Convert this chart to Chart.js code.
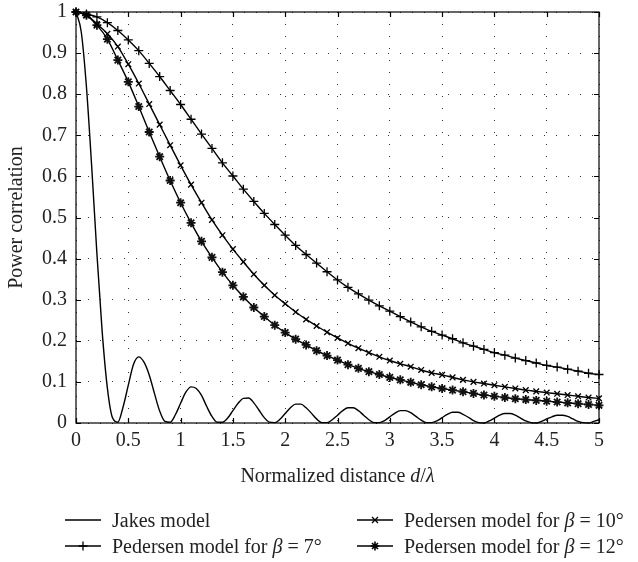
<!DOCTYPE html>
<html>
<head>
<meta charset="utf-8">
<script src="https://cdn.jsdelivr.net/npm/chart.js@4"></script>
<style>
  body { margin: 0; background: #fff; }
  #wrap { position: relative; width: 638px; height: 562px; font-family: "Liberation Serif", serif; color: #222; }
  #chart { position: absolute; left: 0; top: 0; }
  .txt { position: absolute; font-size: 20px; line-height: 24px; white-space: nowrap; }
  .key { position: absolute; height: 24px; display: flex; align-items: center; font-size: 20px; white-space: nowrap; }
  .key svg { margin-right: 11px; }
</style>
</head>
<body>
<div id="wrap">
  <canvas id="chart" width="638" height="562"></canvas>
  <div class="txt" style="left:0; width:675px; text-align:center; top:463px;">Normalized distance <i>d</i>/<i>λ</i></div>
  <div class="key" style="left:65px; top:508px;" id="key0"></div>
  <div class="key" style="left:65px; top:534px;" id="key1"></div>
  <div class="key" style="left:357px; top:508px;" id="key2"></div>
  <div class="key" style="left:357px; top:534px;" id="key3"></div>
</div>
<script>
// normalized distance d/lambda, 0.1 steps (Pedersen curves)
const distance = [0, 0.1, 0.2, 0.3, 0.4, 0.5, 0.6, 0.7, 0.8, 0.9,
  1, 1.1, 1.2, 1.3, 1.4, 1.5, 1.6, 1.7, 1.8, 1.9,
  2, 2.1, 2.2, 2.3, 2.4, 2.5, 2.6, 2.7, 2.8, 2.9,
  3, 3.1, 3.2, 3.3, 3.4, 3.5, 3.6, 3.7, 3.8, 3.9,
  4, 4.1, 4.2, 4.3, 4.4, 4.5, 4.6, 4.7, 4.8, 4.9, 5];

const pedersen7 = [1.000, 0.995, 0.988, 0.974, 0.955, 0.932, 0.906, 0.875, 0.843, 0.809,
  0.775, 0.739, 0.703, 0.668, 0.633, 0.601, 0.569, 0.539, 0.510, 0.483,
  0.457, 0.432, 0.410, 0.389, 0.368, 0.348, 0.330, 0.314, 0.299, 0.285,
  0.272, 0.259, 0.246, 0.234, 0.223, 0.214, 0.205, 0.195, 0.187, 0.179,
  0.171, 0.165, 0.158, 0.152, 0.146, 0.140, 0.136, 0.131, 0.126, 0.121, 0.118];

const pedersen10 = [1.000, 0.993, 0.971, 0.947, 0.916, 0.873, 0.826, 0.776, 0.726, 0.676,
  0.627, 0.580, 0.536, 0.494, 0.457, 0.423, 0.392, 0.362, 0.335, 0.311,
  0.290, 0.270, 0.252, 0.236, 0.221, 0.207, 0.194, 0.182, 0.171, 0.161,
  0.152, 0.144, 0.137, 0.129, 0.122, 0.117, 0.111, 0.105, 0.100, 0.096,
  0.092, 0.088, 0.084, 0.080, 0.077, 0.074, 0.071, 0.068, 0.065, 0.062, 0.060];

const pedersen12 = [1.000, 0.992, 0.968, 0.934, 0.883, 0.830, 0.770, 0.708, 0.648, 0.590,
  0.536, 0.487, 0.442, 0.403, 0.367, 0.335, 0.307, 0.281, 0.259, 0.238,
  0.220, 0.204, 0.190, 0.176, 0.164, 0.153, 0.142, 0.133, 0.125, 0.118,
  0.111, 0.105, 0.099, 0.093, 0.088, 0.084, 0.080, 0.076, 0.072, 0.068,
  0.065, 0.062, 0.059, 0.057, 0.055, 0.053, 0.051, 0.049, 0.047, 0.045, 0.043];

// Jakes model read at 0.05 steps
const jakesDistance = [0, 0.05, 0.1, 0.15, 0.2, 0.25, 0.3, 0.35, 0.4, 0.45,
  0.5, 0.55, 0.6, 0.65, 0.7, 0.75, 0.8, 0.85, 0.9, 0.95,
  1, 1.05, 1.1, 1.15, 1.2, 1.25, 1.3, 1.35, 1.4, 1.45,
  1.5, 1.55, 1.6, 1.65, 1.7, 1.75, 1.8, 1.85, 1.9, 1.95,
  2, 2.05, 2.1, 2.15, 2.2, 2.25, 2.3, 2.35, 2.4, 2.45,
  2.5, 2.55, 2.6, 2.65, 2.7, 2.75, 2.8, 2.85, 2.9, 2.95,
  3, 3.05, 3.1, 3.15, 3.2, 3.25, 3.3, 3.35, 3.4, 3.45,
  3.5, 3.55, 3.6, 3.65, 3.7, 3.75, 3.8, 3.85, 3.9, 3.95,
  4, 4.05, 4.1, 4.15, 4.2, 4.25, 4.3, 4.35, 4.4, 4.45,
  4.5, 4.55, 4.6, 4.65, 4.7, 4.75, 4.8, 4.85, 4.9, 4.95, 5];

const jakes = [1.000, 0.952, 0.817, 0.624, 0.412, 0.223, 0.085, 0.012, 0.002, 0.039,
  0.092, 0.143, 0.161, 0.148, 0.117, 0.072, 0.029, 0.004, 0.002, 0.020,
  0.048, 0.075, 0.088, 0.084, 0.067, 0.040, 0.016, 0.002, 0.002, 0.012,
  0.030, 0.048, 0.060, 0.061, 0.049, 0.031, 0.013, 0.002, 0.001, 0.009,
  0.023, 0.037, 0.046, 0.046, 0.037, 0.024, 0.010, 0.001, 0.001, 0.008,
  0.019, 0.030, 0.037, 0.037, 0.030, 0.019, 0.008, 0.001, 0.001, 0.006,
  0.015, 0.024, 0.030, 0.030, 0.025, 0.016, 0.007, 0.001, 0.001, 0.005,
  0.013, 0.021, 0.026, 0.026, 0.021, 0.014, 0.006, 0.001, 0.000, 0.005,
  0.012, 0.019, 0.023, 0.023, 0.019, 0.012, 0.005, 0.001, 0.000, 0.004,
  0.010, 0.015, 0.019, 0.019, 0.016, 0.010, 0.004, 0.001, 0.000, 0.004, 0.008];

const seriesNames = ["Jakes model", "Pedersen model for β = 7°", "Pedersen model for β = 10°", "Pedersen model for β = 12°"];
const markerStyles = [false, "cross", "crossRot", "star"];

const toPoints = (xs, ys) => xs.map((x, i) => ({ x: x, y: ys[i] }));
const font = { family: "Liberation Serif", size: 20 };
// "1", "0.5", "0" like the original, no trailing zeros
const shortLabel = v => String(Number(v.toFixed(1)));

// box around the plot and inward ticks on all four sides
const framePlugin = {
  id: "frame",
  afterDraw(chart) {
    const { ctx, chartArea: a, scales } = chart;
    ctx.save();
    ctx.strokeStyle = "#000";
    ctx.lineWidth = 1.2;
    ctx.strokeRect(a.left, a.top, a.right - a.left, a.bottom - a.top);
    ctx.beginPath();
    scales.x.ticks.forEach(t => {
      const px = Math.round(scales.x.getPixelForValue(t.value)) + 0.5;
      ctx.moveTo(px, a.bottom); ctx.lineTo(px, a.bottom - 5);
      ctx.moveTo(px, a.top); ctx.lineTo(px, a.top + 5);
    });
    scales.y.ticks.forEach(t => {
      const py = Math.round(scales.y.getPixelForValue(t.value)) + 0.5;
      ctx.moveTo(a.left, py); ctx.lineTo(a.left + 5, py);
      ctx.moveTo(a.right, py); ctx.lineTo(a.right - 5, py);
    });
    ctx.stroke();
    ctx.restore();
  }
};

const ctx = document.getElementById("chart").getContext("2d");
new Chart(ctx, {
  type: "line",
  data: {
    datasets: [
      {
        label: seriesNames[0],
        data: toPoints(jakesDistance, jakes),
        borderColor: "#000",
        borderWidth: 1.4,
        pointRadius: 0,
        cubicInterpolationMode: "monotone",
        clip: false
      },
      {
        label: seriesNames[1],
        data: toPoints(distance, pedersen7),
        borderColor: "#000",
        borderWidth: 1.4,
        pointStyle: markerStyles[1],
        pointRadius: 4.5,
        pointBorderWidth: 1.3,
        pointBorderColor: "#000",
        cubicInterpolationMode: "monotone",
        clip: false
      },
      {
        label: seriesNames[2],
        data: toPoints(distance, pedersen10),
        borderColor: "#000",
        borderWidth: 1.4,
        pointStyle: markerStyles[2],
        pointRadius: 4,
        pointBorderWidth: 1.3,
        pointBorderColor: "#000",
        cubicInterpolationMode: "monotone",
        clip: false
      },
      {
        label: seriesNames[3],
        data: toPoints(distance, pedersen12),
        borderColor: "#000",
        borderWidth: 1.4,
        pointStyle: markerStyles[3],
        pointRadius: 4.5,
        pointBorderWidth: 1.8,
        pointBorderColor: "#111",
        cubicInterpolationMode: "monotone",
        clip: false
      }
    ]
  },
  options: {
    responsive: false,
    animation: false,
    devicePixelRatio: 1,
    layout: { padding: { top: 12, right: 39, bottom: 0, left: 0 } },
    plugins: { legend: { display: false }, tooltip: { enabled: false } },
    scales: {
      x: {
        type: "linear",
        min: 0,
        max: 5,
        afterFit: s => { s.height = 139; s.paddingLeft = 0; s.paddingRight = 0; },
        ticks: { stepSize: 0.5, font: font, color: "#222", padding: 6, maxRotation: 0, callback: shortLabel },
        grid: { color: "#333", lineWidth: 1, drawTicks: false },
        border: { display: false, dash: [1, 11] }
      },
      y: {
        min: 0,
        max: 1,
        afterFit: s => { s.width = 76; s.paddingTop = 0; s.paddingBottom = 0; },
        ticks: { stepSize: 0.1, font: font, color: "#222", padding: 9, callback: shortLabel },
        grid: { color: "#333", lineWidth: 1, drawTicks: false },
        border: { display: false, dash: [1, 11] },
        title: { display: true, text: "Power correlation", font: font, color: "#222", padding: { top: 5, bottom: 0 } }
      }
    }
  },
  plugins: [framePlugin]
});

// legend: line with marker in the middle, then the label
const markerSvg = {
  none: "",
  cross: '<path d="M18 7.5 V16.5 M13.5 12 H22.5" stroke="#000" stroke-width="1.3"/>',
  crossRot: '<path d="M15 9 L21 15 M21 9 L15 15" stroke="#000" stroke-width="1.3"/>',
  star: '<path d="M18 7.5 V16.5 M13.5 12 H22.5 M15 9 L21 15 M21 9 L15 15" stroke="#000" stroke-width="1.6"/>'
};
["none", "cross", "crossRot", "star"].forEach((m, i) => {
  const el = document.getElementById("key" + i);
  const label = seriesNames[i].replace("β", "<i>β</i>");
  el.innerHTML = '<svg width="36" height="24"><path d="M0 12 H36" stroke="#000" stroke-width="1.4"/>' +
    markerSvg[m] + "</svg><span>" + label + "</span>";
});
</script>
</body>
</html>
